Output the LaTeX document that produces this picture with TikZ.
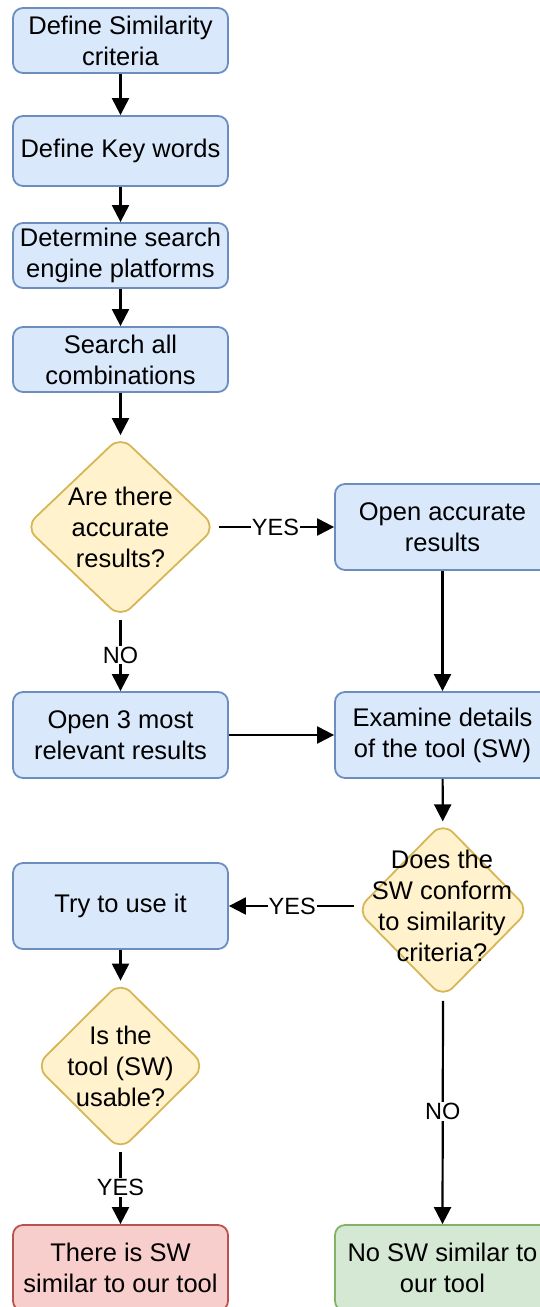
\documentclass[tikz,border=0pt]{standalone}
\usepackage{fontspec}
\setmainfont{Liberation Sans}
\usepackage{xcolor}
\usepackage{tikz}
\usetikzlibrary{arrows.meta, shapes.geometric, positioning}

\definecolor{bluefill}{HTML}{DAE8FC}
\definecolor{blueline}{HTML}{6C8EBF}
\definecolor{yellowfill}{HTML}{FFF2CC}
\definecolor{yellowline}{HTML}{D6B656}
\definecolor{redfill}{HTML}{F8CECC}
\definecolor{redline}{HTML}{B85450}
\definecolor{greenfill}{HTML}{D5E8D4}
\definecolor{greenline}{HTML}{82B366}

\tikzset{
    process/.style={draw=blueline, fill=bluefill, line width=1.8pt, rounded corners=10pt,
        minimum width=215pt, minimum height=65pt, align=center, inner sep=2pt,
        font=\fontsize{25.5}{31}\selectfont},
    decision/.style={diamond, draw=yellowline, fill=yellowfill, line width=1.8pt,
        rounded corners=14pt, inner sep=0pt},
    dtext/.style={align=center, inner sep=0pt, font=\fontsize{25.5}{31}\selectfont},
    lbl/.style={fill=white, inner sep=1pt, font=\fontsize{23.5}{27}\selectfont},
    flow/.style={line width=2.2pt, -{Triangle[length=17pt, width=17pt]}}
}

\begin{document}
\begin{tikzpicture}[x=1pt, y=-1pt]
    \useasboundingbox (0,0) rectangle (540,1307);

    % Linke Spalte: Suche
    \node[process] (crit) at (120.5,40.5) {Define Similarity\\criteria};
    \node[process, minimum height=70pt] (keys) at (120.5,151) {Define Key words};
    \node[process] (engines) at (120.5,255.5) {Determine search\\engine platforms};
    \node[process] (search) at (120.5,359.5) {Search all\\combinations};

    % Entscheidung 1
    \node[decision, minimum width=191pt, minimum height=182pt] (accq) at (120.5,527) {};
    \node[dtext] (accqt) at (accq) {Are there\\accurate\\results?};

    \node[process, minimum height=86pt] (openacc) at (442.5,527) {Open accurate\\results};
    \node[process, minimum height=86pt] (openrel) at (120.5,735) {Open 3 most\\relevant results};
    \node[process, minimum height=86pt] (examine) at (442.5,735) {Examine details\\of the tool (SW)};

    % Entscheidung 2
    \node[decision, minimum width=173pt, minimum height=176pt] (conq) at (443,910) {};
    \node[dtext] (conqt) at (442,906) {Does the\\SW conform\\to similarity\\criteria?};

    \node[process, minimum height=86pt] (try) at (120.5,906) {Try to use it};

    % Entscheidung 3
    \node[decision, minimum width=170pt, minimum height=169pt] (useq) at (120.5,1066) {};
    \node[dtext] (useqt) at (useq) {Is the\\tool (SW)\\usable?};

    % Ergebnisse
    \node[process, minimum height=86pt, draw=redline, fill=redfill] (found) at (120.5,1268)
        {There is SW\\similar to our tool};
    \node[process, minimum height=86pt, draw=greenline, fill=greenfill] (notfound) at (442.5,1268)
        {No SW similar to\\our tool};

    % Verbindungen
    \draw[flow] (crit) -- (keys);
    \draw[flow] (keys) -- (engines);
    \draw[flow] (engines) -- (search);
    \draw[flow] (search) -- (accq);
    \draw[flow, shorten <=2pt] (accq.east) -- node[lbl] {YES} (openacc.west);
    \draw[flow, shorten <=1pt] (accq.south) -- node[lbl] {NO} (openrel.north);
    \draw[flow] (openacc) -- (examine);
    \draw[flow] (openrel) -- (examine);
    \draw[flow] (examine) -- (conq);
    \draw[flow, shorten <=2pt] (conq.west |- try.east) -- node[lbl] {YES} (try.east);
    \draw[flow, shorten <=2pt] (conq.south) -- node[lbl] {NO} (notfound.north);
    \draw[flow] (try) -- (useq);
    \draw[flow, shorten <=1pt] (useq.south) -- node[lbl] {YES} (found.north);
\end{tikzpicture}
\end{document}
